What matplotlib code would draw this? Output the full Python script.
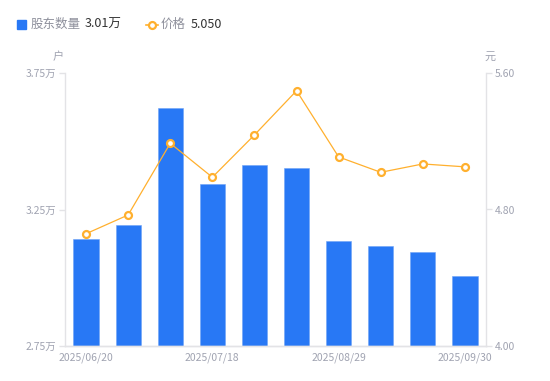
import matplotlib
matplotlib.use("Agg")
import matplotlib.pyplot as plt
from matplotlib.patches import Rectangle
from matplotlib.lines import Line2D

plt.rcParams['font.family'] = ['Noto Sans CJK SC', 'DejaVu Sans']

dates = ["2025/06/20", "2025/06/30", "2025/07/10", "2025/07/18", "2025/07/31",
         "2025/08/15", "2025/08/29", "2025/09/10", "2025/09/19", "2025/09/30"]
holders = [3.142, 3.193, 3.621, 3.343, 3.413, 3.401, 3.134, 3.116, 3.093, 3.006]  # 万户
price = [4.658, 4.768, 5.188, 4.989, 5.237, 5.496, 5.108, 5.018, 5.067, 5.050]
left_ticks = [2.75, 3.25, 3.75]
right_ticks = [4.00, 4.80, 5.60]
shown_dates = [0, 3, 6, 9]

blue = "#2878F5"
orange = "#FFB02E"
grey = "#A0A3B1"
axis_c = "#E3E3E6"

fig = plt.figure(figsize=(5.5, 3.81), dpi=100)
ax = fig.add_axes([65 / 550, 1 - 346 / 381, 421 / 550, 273 / 381])
ax2 = ax.twinx()

x = list(range(len(dates)))
ax.bar(x, holders, width=0.6, color=blue, edgecolor="#6FA3F7", linewidth=0.4, zorder=2)
ax2.plot(x, price, color=orange, linewidth=0.9, marker="o", markersize=5,
         markerfacecolor="white", markeredgecolor=orange, markeredgewidth=1.6, zorder=3)

ax.set_xlim(-0.5, len(dates) - 0.5)
ax.set_ylim(2.75, 3.75)
ax2.set_ylim(4.0, 5.6)

ax.set_yticks(left_ticks)
ax.set_yticklabels([f"{v:.2f}万" for v in left_ticks])
ax2.set_yticks(right_ticks)
ax2.set_yticklabels([f"{v:.2f}" for v in right_ticks])
ax.set_xticks(shown_dates)
ax.set_xticklabels([dates[i] for i in shown_dates])

for a in (ax, ax2):
    for s in a.spines.values():
        s.set_color(axis_c)
        s.set_linewidth(1)
    a.spines["top"].set_visible(False)
    a.tick_params(colors=grey, labelsize=7.5, length=4, width=1, pad=2)
    a.tick_params(axis="y", color=axis_c)
ax.tick_params(axis="x", length=0, pad=5)
ax2.spines["left"].set_visible(False)
ax.spines["right"].set_visible(False)

ax.set_zorder(ax2.get_zorder() - 1)
ax2.patch.set_visible(False)

# axis units
fig.text(58 / 550, 1 - 57 / 381, "户", color=grey, fontsize=8, ha="center", va="center")
fig.text(490 / 550, 1 - 57 / 381, "元", color=grey, fontsize=8, ha="center", va="center")

# legend
ly = 1 - 24.5 / 381
fig.patches.append(Rectangle((16.5 / 550, 1 - 29 / 381), 9 / 550, 9 / 381,
                             transform=fig.transFigure, color=blue, figure=fig))
fig.text(31 / 550, ly, "股东数量", color="#8E909C", fontsize=9, va="center")
fig.text(85 / 550, ly, f"{holders[-1]:.2f}万", color="#333333", fontsize=9, va="center")
fig.lines.append(Line2D([146 / 550, 158 / 550], [ly, ly], transform=fig.transFigure,
                        color=orange, linewidth=1.2, marker="o", markevery=[0], markersize=0,
                        figure=fig))
fig.lines.append(Line2D([152 / 550], [ly], transform=fig.transFigure, color=orange,
                        marker="o", markersize=5, markerfacecolor="white",
                        markeredgewidth=1.6, linestyle="none", figure=fig))
fig.text(161 / 550, ly, "价格", color="#8E909C", fontsize=9, va="center")
fig.text(191 / 550, ly, f"{price[-1]:.3f}", color="#333333", fontsize=9, va="center")

fig.savefig("out.png", dpi=100)
